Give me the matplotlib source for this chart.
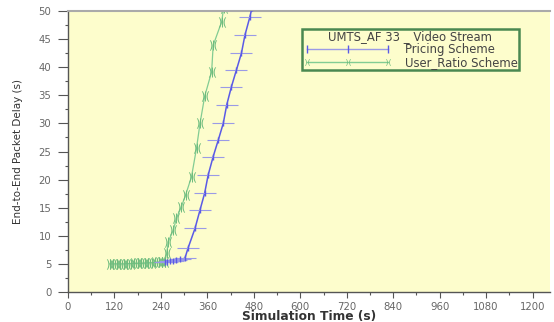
import matplotlib
matplotlib.use("Agg")
import matplotlib.pyplot as plt
from matplotlib.ticker import MultipleLocator
from matplotlib.lines import Line2D

# Data
pricing_t = [250, 256, 264, 272, 280, 290, 302, 310, 328, 341, 353, 362, 375, 388,
             401, 410, 422, 435, 448, 457, 470, 475]
pricing_d = [5.3, 5.4, 5.5, 5.6, 5.7, 5.8, 6.0, 7.8, 11.3, 14.6, 17.6, 20.8, 24.1, 27.0,
             30.0, 33.3, 36.5, 39.5, 42.5, 45.7, 49.0, 50.5]

ratio_t = [108, 117, 126, 135, 144, 153, 162, 171, 180, 189, 198, 207, 216, 225, 234,
           243, 250, 255, 259, 272, 280, 293, 304, 319, 332, 341, 353, 371, 375, 397, 402]
ratio_d = [5.0, 5.0, 5.0, 5.0, 5.0, 5.05, 5.05, 5.1, 5.1, 5.1, 5.15, 5.2, 5.2, 5.25, 5.3,
           5.3, 5.4, 6.9, 8.95, 11.0, 13.1, 15.2, 17.3, 20.5, 25.6, 30.0, 34.8, 39.2, 43.9,
           48.1, 50.5]

x_ticks = [0, 120, 240, 360, 480, 600, 720, 840, 960, 1080, 1200]
y_ticks = [0, 5, 10, 15, 20, 25, 30, 35, 40, 45, 50]

fig = plt.figure(figsize=(5.54, 3.22), dpi=100)
ax = fig.add_axes([68/554, 30/322, 482/554, 281/322])
bg = "#fdfdcc"
ax.set_facecolor(bg)

blue = "#5a5ae6"
blue_light = "#9a9ae6"
green = "#82cc93"
green_mk = "#6cbb7c"

ax.plot(pricing_t, pricing_d, color=blue, lw=1.1, zorder=3)
ax.plot(pricing_t, pricing_d, ls="none", marker="_", ms=16, mew=0.8,
        color=blue_light, zorder=3)
ax.plot(pricing_t, pricing_d, ls="none", marker="|", ms=4, mew=1.0,
        color=blue, zorder=4)
ax.plot(ratio_t, ratio_d, color=green, lw=0.9, zorder=2)
ax.plot(ratio_t, ratio_d, ls="none", marker=r"$)($", ms=7.5, mew=0,
        mfc=green_mk, mec=green_mk, zorder=2)
ax.plot(ratio_t, ratio_d, ls="none", marker="|", ms=7, mew=0.7,
        color=green_mk, zorder=2)

ax.set_xlim(0, 1245)
ax.set_ylim(0, 50)
ax.set_xticks(x_ticks)
ax.set_yticks(y_ticks)
ax.xaxis.set_minor_locator(MultipleLocator(60))
ax.yaxis.set_minor_locator(MultipleLocator(2.5))
ax.tick_params(axis="x", which="major", direction="out", length=4, width=0.8,
               colors="#555555", labelsize=7.3, labelcolor="#666666", pad=3)
ax.tick_params(axis="y", which="major", direction="out", length=7, width=0.8,
               colors="#555555", labelsize=7.3, labelcolor="#666666", pad=5)
ax.tick_params(axis="both", which="minor", direction="out", length=2.5, width=0.8,
               colors="#555555")

for s in ["left", "bottom"]:
    ax.spines[s].set_color("#555555")
    ax.spines[s].set_linewidth(1.0)
ax.spines["top"].set_color("#aaaaaa")
ax.spines["top"].set_linewidth(1.5)
ax.spines["right"].set_visible(False)

ax.set_xlabel("Simulation Time (s)", fontsize=8.8, fontweight="bold", color="#333333",
              labelpad=-1)
ax.set_ylabel("End-to-End Packet Delay (s)", fontsize=7.5, color="#333333",
              family="Liberation Sans Narrow", labelpad=11)

h1 = Line2D([0, 0.5, 1], [0, 0, 0], color=blue_light, lw=1.0, marker="|", ms=6,
            mec=blue)
h2 = Line2D([0, 0.5, 1], [0, 0, 0], color=green, lw=1.0, marker=r"$)($", ms=5,
            mec=green_mk, mfc=green_mk, mew=0)
leg = ax.legend([h1, h2], ["Pricing Scheme", "User_Ratio Scheme"],
                title="UMTS_AF 33 _ Video Stream", loc="upper left",
                bbox_to_anchor=(234/482, 1 - 18/281), fontsize=8.4,
                title_fontsize=8.4, handlelength=7.6, handletextpad=1.1,
                borderpad=0.1, labelspacing=0.0, fancybox=False, frameon=True,
                numpoints=3, borderaxespad=0)
leg.get_frame().set_edgecolor("#1d6b32")
leg.get_frame().set_linewidth(1.8)
leg.get_frame().set_facecolor(bg)
leg.get_title().set_color("#444444")
for t in leg.get_texts():
    t.set_color("#444444")

fig.savefig("out.png", dpi=100)
